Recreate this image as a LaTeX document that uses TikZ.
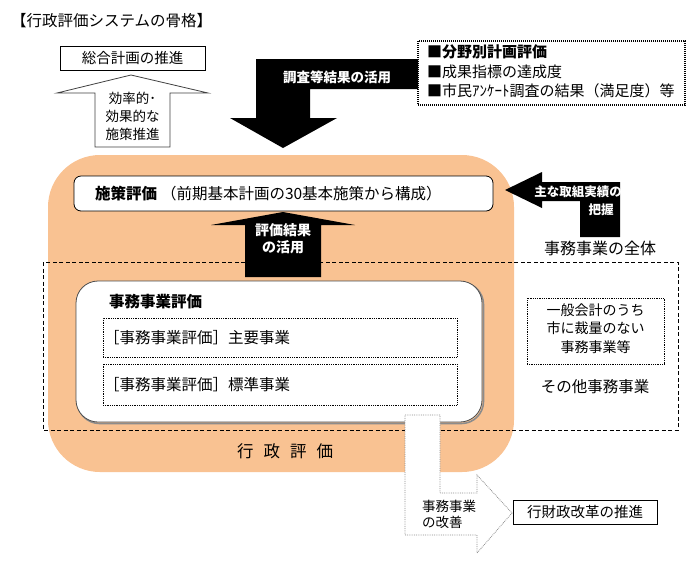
\documentclass[tikz,border=0pt]{standalone}
\usepackage{fontspec}
\setmainfont{Noto Sans CJK JP}
\definecolor{orangebg}{RGB}{249,194,146}
\definecolor{arrgray}{RGB}{140,140,140}
\begin{document}
\begin{tikzpicture}[x=1pt,y=-1pt,
  base/.style={inner sep=0pt, outer sep=0pt},
  lbl/.style={base, font=\fontsize{15}{18}\selectfont},
  lblb/.style={base, font=\bfseries\fontsize{15.5}{18}\selectfont},
  smalltxt/.style={base, align=center, font=\fontsize{13.5}{18}\selectfont},
  wlbl/.style={base, align=center, text=white, font=\bfseries\fontsize{13.5}{17}\selectfont},
  frame/.style={draw=black, line width=0.8pt},
  dotbox/.style={draw=black, line width=0.8pt, dash pattern=on 0.8pt off 1pt},
  boxnode/.style={base, anchor=north west}
]
\useasboundingbox (0,0) rectangle (695,566);

% title
\node[base, anchor=west, font=\fontsize{15.5}{18}\selectfont] (title) at (11,21) {【行政評価システムの骨格】};

% orange area
\fill[orangebg, rounded corners=52pt] (48,155) rectangle (514,472);

% dashed whole-area frame
\draw[line width=0.8pt, dash pattern=on 4pt off 2.5pt] (43,262) rectangle (678,430);

% white box (事務事業評価)
\draw[line width=1.6pt, black!45, rounded corners=22pt] (77.5,282.5) rectangle (483.5,423.5);
\draw[line width=0.8pt, black!70, fill=white, rounded corners=22pt] (76,281) rectangle (482,422);
\node[lblb, anchor=west] (jimuhyoka) at (109,302) {事務事業評価};
\node[boxnode, dotbox, minimum width=354pt, minimum height=39pt] (shuyo) at (103,318) {};
\node[lbl, anchor=west, font=\fontsize{15.5}{18}\selectfont] (shuyot) at (104,338) {［事務事業評価］主要事業};
\node[boxnode, dotbox, minimum width=354pt, minimum height=41pt] (hyojun) at (103,364) {};
\node[lbl, anchor=west, font=\fontsize{15.5}{18}\selectfont] (hyojunt) at (104,385) {［事務事業評価］標準事業};

% 施策評価 box
\node[boxnode, frame, fill=white, rounded corners=7pt, minimum width=419pt, minimum height=35pt] (shisaku) at (74,176) {};
\node[base, anchor=west] (shisakut) at (95,193.5) {\bfseries\fontsize{15.5}{18}\selectfont 施策評価\hspace{4pt}\mdseries（前期基本計画の30基本施策から構成）};

% black up arrow (評価結果の活用)
\fill[black] (245,277) -- (245,225) -- (211,225) -- (283,212) -- (355,225) -- (321,225) -- (321,277) -- cycle;
\node[wlbl, font=\bfseries\fontsize{14}{17}\selectfont] (hyokakekka) at (283,238.5) {評価結果\\の活用};

% 行政評価 label
\node[base, font=\fontsize{16.5}{18}\selectfont] (gyosei) at (285,451) {行\hspace{10pt}政\hspace{10pt}評\hspace{10pt}価};

% 総合計画の推進 box
\node[boxnode, frame, minimum width=145pt, minimum height=24pt, font=\fontsize{14.5}{17}\selectfont] (sogo) at (60,46) {総合計画の推進};

% white up arrow
\draw[line width=0.8pt, black!75, fill=white] (95,147) -- (95,93) -- (57,93) -- (131,75) -- (208,93) -- (170,93) -- (170,147) -- cycle;
\node[smalltxt] (koritsu) at (132.5,116) {効率的･\\効果的な\\施策推進};

% black bent arrow (調査等結果の活用)
\fill[black] (256,59) -- (418,59) -- (418,89) -- (310,89) -- (310,118) -- (337,118) -- (283,148) -- (230,118) -- (256,118) -- cycle;
\node[wlbl] (chosa) at (337,77) {調査等結果の活用};

% dotted box with list
\node[boxnode, draw=black, line width=1.2pt, dash pattern=on 1pt off 1pt, minimum width=267pt, minimum height=64pt] (list) at (418,41) {};
\node[base, anchor=west, font=\bfseries\fontsize{15}{18}\selectfont] (l1) at (427,52) {■分野別計画評価};
\node[base, anchor=west, font=\fontsize{15}{18}\selectfont] (l2) at (427,71.5) {■成果指標の達成度};
\node[base, anchor=west, font=\fontsize{15}{18}\selectfont] (l3) at (427,90.5) {■市民ｱﾝｹｰﾄ調査の結果（満足度）等};

% black left arrow (主な取組実績の把握)
\fill[black] (505,190) -- (542,172) -- (542,182) -- (620,182) -- (620,237) -- (580,237) -- (580,201) -- (542,201) -- (542,208) -- cycle;
\node[wlbl, font=\bfseries\fontsize{12.5}{15}\selectfont] (torikumi) at (578,192) {主な取組実績の};
\node[wlbl, font=\bfseries\fontsize{12.5}{15}\selectfont] (haaku) at (601,210) {把握};

% right side texts
\node[base, font=\fontsize{16}{18}\selectfont] (zentai) at (600,248) {事務事業の全体};
\node[boxnode, dotbox, minimum width=137pt, minimum height=66pt] (ippan) at (527,298) {};
\node[base, align=center, font=\fontsize{14}{18.5}\selectfont] (ippant) at (595.5,328.5) {一般会計のうち\\市に裁量のない\\事務事業等};
\node[base, font=\fontsize{15.5}{18}\selectfont] (sonota) at (595,387) {その他事務事業};

% white dotted bent arrow (事務事業の改善)
\draw[arrgray, line width=0.8pt, dash pattern=on 0.8pt off 1pt, fill=white] (405,415) -- (440,415) -- (440,493) -- (477,493) -- (477,475) -- (512,513) -- (477,553) -- (477,535) -- (405,535) -- cycle;
\node[base, align=left, anchor=west, font=\fontsize{13.5}{16.5}\selectfont] (kaizen) at (422,514.5) {事務事業\\の改善};

% 行財政改革の推進 box
\node[boxnode, frame, minimum width=144pt, minimum height=24pt, font=\fontsize{14.5}{17}\selectfont] (gyozai) at (513,500) {行財政改革の推進};

\end{tikzpicture}
\end{document}
